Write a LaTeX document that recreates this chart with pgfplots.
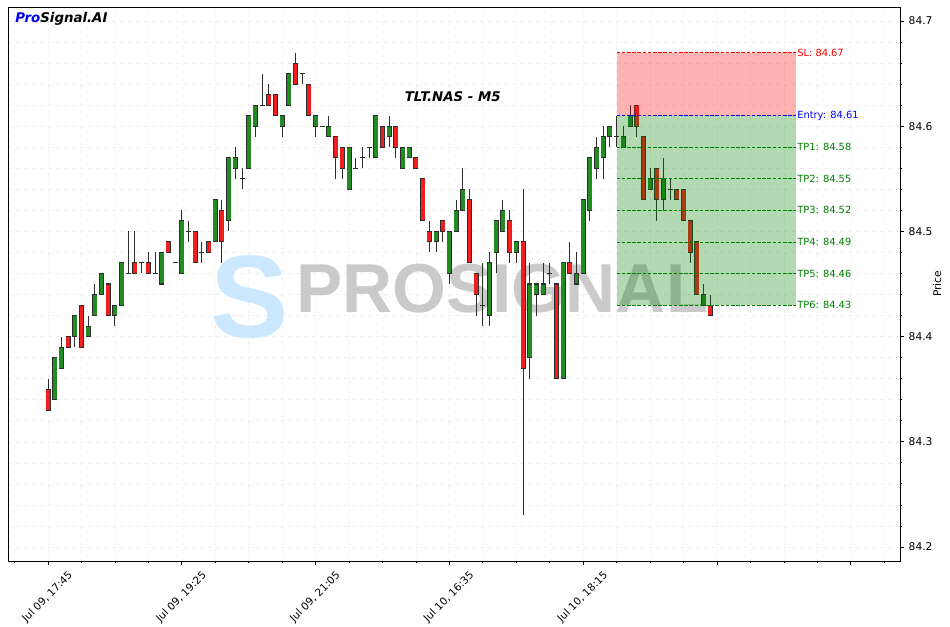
\documentclass[border=0pt]{standalone}
\usepackage{fontspec}
\setmainfont{DejaVu Sans}[ItalicFont={DejaVu Sans Oblique},BoldFont={DejaVu Sans Bold},BoldItalicFont={DejaVu Sans Bold Oblique}]
\newfontfamily\wmfont{Liberation Sans}[BoldFont={Liberation Sans Bold}]
\usepackage{pgfplots}
\pgfplotsset{compat=1.18}
\usepackage{pgfplotstable}

\definecolor{cgreen}{RGB}{34,139,34}
\definecolor{cred}{RGB}{240,30,30}
\definecolor{cedge}{RGB}{45,45,45}
\definecolor{tpgreen}{RGB}{0,128,0}
\definecolor{wm}{RGB}{202,202,202}
\definecolor{logo}{RGB}{204,232,255}

\pgfplotstableread{
i o h l c
0 84.35 84.36 84.33 84.33
1 84.34 84.38 84.34 84.38
2 84.37 84.40 84.37 84.39
3 84.40 84.40 84.39 84.39
4 84.40 84.42 84.39 84.42
5 84.43 84.43 84.39 84.39
6 84.40 84.42 84.40 84.41
7 84.42 84.45 84.42 84.44
8 84.44 84.46 84.44 84.46
9 84.45 84.45 84.42 84.42
10 84.42 84.43 84.41 84.43
11 84.43 84.47 84.43 84.47
12 84.46 84.50 84.46 84.46
13 84.47 84.50 84.46 84.46
14 84.47 84.47 84.46 84.47
15 84.47 84.48 84.46 84.46
16 84.46 84.48 84.46 84.46
17 84.45 84.48 84.45 84.48
18 84.49 84.49 84.48 84.48
19 84.47 84.47 84.47 84.47
20 84.46 84.52 84.46 84.51
21 84.50 84.51 84.49 84.50
22 84.50 84.50 84.47 84.47
23 84.48 84.49 84.47 84.48
24 84.49 84.49 84.48 84.48
25 84.49 84.53 84.49 84.53
26 84.52 84.53 84.47 84.49
27 84.51 84.57 84.50 84.57
28 84.56 84.58 84.55 84.57
29 84.55 84.56 84.54 84.55
30 84.56 84.61 84.56 84.61
31 84.60 84.62 84.59 84.62
32 84.62 84.65 84.62 84.62
33 84.63 84.64 84.62 84.62
34 84.63 84.63 84.61 84.61
35 84.60 84.61 84.59 84.61
36 84.62 84.65 84.62 84.65
37 84.66 84.67 84.64 84.64
38 84.65 84.65 84.64 84.65
39 84.64 84.64 84.61 84.61
40 84.60 84.61 84.59 84.61
41 84.60 84.60 84.60 84.60
42 84.59 84.61 84.59 84.60
43 84.59 84.59 84.55 84.57
44 84.58 84.58 84.55 84.56
45 84.54 84.58 84.54 84.58
46 84.56 84.57 84.56 84.56
47 84.57 84.58 84.56 84.57
48 84.58 84.58 84.57 84.58
49 84.57 84.61 84.57 84.61
50 84.60 84.60 84.58 84.58
51 84.59 84.61 84.58 84.60
52 84.60 84.60 84.57 84.58
53 84.56 84.58 84.56 84.58
54 84.57 84.58 84.57 84.58
55 84.57 84.57 84.56 84.56
56 84.55 84.55 84.51 84.51
57 84.50 84.51 84.48 84.49
58 84.49 84.50 84.48 84.50
59 84.51 84.51 84.49 84.50
60 84.46 84.50 84.45 84.50
61 84.50 84.53 84.50 84.52
62 84.52 84.56 84.52 84.54
63 84.53 84.54 84.47 84.47
64 84.46 84.46 84.42 84.44
65 84.43 84.47 84.41 84.43
66 84.42 84.48 84.41 84.47
67 84.48 84.51 84.46 84.51
68 84.50 84.53 84.50 84.52
69 84.51 84.52 84.47 84.48
70 84.48 84.49 84.47 84.49
71 84.49 84.54 84.23 84.37
72 84.38 84.47 84.36 84.45
73 84.44 84.45 84.42 84.45
74 84.44 84.47 84.44 84.45
75 84.46 84.47 84.45 84.46
76 84.45 84.45 84.36 84.36
77 84.36 84.47 84.36 84.47
78 84.47 84.49 84.46 84.46
79 84.45 84.48 84.45 84.46
80 84.46 84.53 84.46 84.53
81 84.52 84.57 84.51 84.57
82 84.56 84.59 84.55 84.58
83 84.57 84.60 84.55 84.59
84 84.59 84.60 84.58 84.60
85 84.59 84.61 84.58 84.59
86 84.58 84.60 84.58 84.59
87 84.60 84.62 84.60 84.61
88 84.62 84.62 84.59 84.60
89 84.59 84.59 84.53 84.53
90 84.54 84.56 84.54 84.55
91 84.56 84.56 84.51 84.53
92 84.53 84.57 84.52 84.55
93 84.54 84.55 84.53 84.54
94 84.54 84.54 84.53 84.53
95 84.54 84.54 84.51 84.51
96 84.51 84.51 84.47 84.48
97 84.49 84.49 84.44 84.44
98 84.43 84.45 84.43 84.44
99 84.43 84.44 84.42 84.42
}\candles

\begin{document}
\begin{tikzpicture}
\useasboundingbox (0,0) rectangle (712.5pt,470.25pt);
\begin{axis}[scale only axis, width=669pt, height=415.5pt,
  xmin=-5.98, xmax=127.35, ymin=0.1867, ymax=0.7133,
  at={(6pt,49.5pt)}, anchor=south west,
  axis line style={line width=0.65pt},
  xtick={0,20,40,60,80,100,120},
  minor xtick={-5,5,10,15,25,30,35,45,50,55,65,70,75,85,90,95,105,110,115,125},
  xticklabels={{Jul 09, 17:45},{Jul 09, 19:25},{Jul 09, 21:05},{Jul 10, 16:35},{Jul 10, 18:15},{},{}},
  ytick={0.2,0.3,0.4,0.5,0.6,0.7},
  yticklabels={84.2,84.3,84.4,84.5,84.6,84.7},
  minor ytick={0.22,0.24,0.26,0.28,0.32,0.34,0.36,0.38,0.42,0.44,0.46,0.48,0.52,0.54,0.56,0.58,0.62,0.64,0.66,0.68},
  grid=both,
  major grid style={dashed, black!6, line width=0.4pt},
  minor grid style={dashed, black!6, line width=0.4pt},
  xtick pos=left, ytick pos=right, yticklabel pos=right,
  tick align=outside, major tick length=3pt, minor tick length=1.6pt,
  tick style={black, line width=0.6pt},
  tick label style={font=\fontsize{8}{9.6}\selectfont},
  xticklabel style={xshift=14.5pt, yshift=1pt, rotate=45, anchor=north east, font=\fontsize{7.8}{9.6}\selectfont},
  ylabel={Price},
  every axis y label/.style={at={(axis description cs:1.0415,0.5)}, anchor=center, rotate=90, font=\fontsize{8}{9.6}\selectfont},
]
\node[text=logo, font=\wmfont\bfseries\fontsize{88}{88}\selectfont] at (axis cs:30.2,0.4376) {S};
\node[text=wm, font=\wmfont\bfseries\fontsize{52}{52}\selectfont] at (axis cs:67.9,0.4452) {PROSIGNAL};
% wicks
\addplot[draw=none, mark=none, forget plot,
  error bars/.cd, y dir=plus, y explicit, error mark=none,
  error bar style={draw=cedge, line width=0.75pt, solid}]
  table[x=i, y expr=\thisrow{l}-84, y error expr=\thisrow{h}-\thisrow{l}] {\candles};
% body outlines (all candles, dojis become a thin line)
\addplot[draw=none, mark=none, forget plot,
  error bars/.cd, y dir=plus, y explicit, error mark=none,
  error bar style={draw=cedge, line width=3.75pt, solid}]
  table[x=i, y expr={min(\thisrow{o},\thisrow{c})-84-0.0005},
        y error expr={abs(\thisrow{c}-\thisrow{o})+0.001}] {\candles};
% green bodies
\addplot[draw=none, mark=none, forget plot,
  restrict expr to domain={\thisrow{c}-\thisrow{o}}{0.005:1},
  error bars/.cd, y dir=plus, y explicit, error mark=none,
  error bar style={draw=cgreen, line width=2.9pt, solid}]
  table[x=i, y expr={\thisrow{o}-84+0.0005},
        y error expr={\thisrow{c}-\thisrow{o}-0.001}] {\candles};
% red bodies
\addplot[draw=none, mark=none, forget plot,
  restrict expr to domain={\thisrow{o}-\thisrow{c}}{0.005:1},
  error bars/.cd, y dir=plus, y explicit, error mark=none,
  error bar style={draw=cred, line width=2.9pt, solid}]
  table[x=i, y expr={\thisrow{c}-84+0.0005},
        y error expr={\thisrow{o}-\thisrow{c}-0.001}] {\candles};
% trade zone
\fill[red, opacity=0.3] (axis cs:85,0.61) rectangle (axis cs:111.8,0.67);
\fill[tpgreen, opacity=0.3] (axis cs:85,0.43) rectangle (axis cs:111.8,0.61);
\begin{scope}[dash pattern=on 2.6pt off 1.3pt, line width=0.6pt]
\draw[red] (axis cs:85,0.67) -- (axis cs:111.8,0.67);
\draw[blue] (axis cs:85,0.61) -- (axis cs:111.8,0.61);
\draw[tpgreen] (axis cs:85,0.58) -- (axis cs:111.8,0.58);
\draw[tpgreen] (axis cs:85,0.55) -- (axis cs:111.8,0.55);
\draw[tpgreen] (axis cs:85,0.52) -- (axis cs:111.8,0.52);
\draw[tpgreen] (axis cs:85,0.49) -- (axis cs:111.8,0.49);
\draw[tpgreen] (axis cs:85,0.46) -- (axis cs:111.8,0.46);
\draw[tpgreen] (axis cs:85,0.43) -- (axis cs:111.8,0.43);
\end{scope}
\begin{scope}[every node/.style={anchor=west, inner xsep=0.8pt, inner ysep=0pt, font=\fontsize{7.4}{9}\selectfont}]
\node[text=red] at (axis cs:111.8,0.67) {SL: 84.67};
\node[text=blue] at (axis cs:111.8,0.61) {Entry: 84.61};
\node[text=tpgreen] at (axis cs:111.8,0.58) {TP1: 84.58};
\node[text=tpgreen] at (axis cs:111.8,0.55) {TP2: 84.55};
\node[text=tpgreen] at (axis cs:111.8,0.52) {TP3: 84.52};
\node[text=tpgreen] at (axis cs:111.8,0.49) {TP4: 84.49};
\node[text=tpgreen] at (axis cs:111.8,0.46) {TP5: 84.46};
\node[text=tpgreen] at (axis cs:111.8,0.43) {TP6: 84.43};
\end{scope}
\node[font=\bfseries\itshape\fontsize{10}{12}\selectfont] at (axis cs:60.5,0.6278) {TLT.NAS - M5};
\node[anchor=west, inner sep=0pt, font=\bfseries\itshape\fontsize{10}{12}\selectfont] at (axis cs:-4.93,0.7019) {\textcolor{blue}{Pro}Signal.AI};
\end{axis}
\end{tikzpicture}
\end{document}
